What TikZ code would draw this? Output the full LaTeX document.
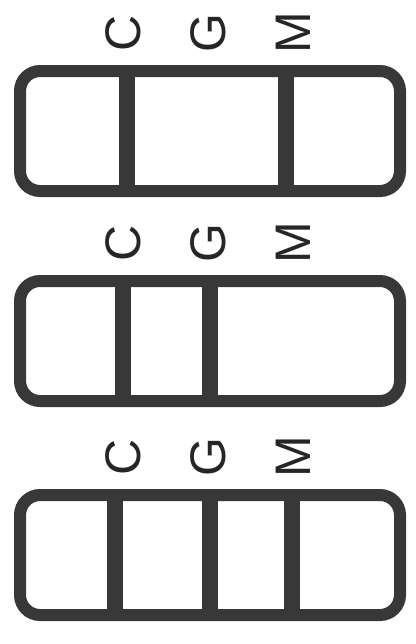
\documentclass[tikz,border=0pt]{standalone}
\usepackage{fontspec}
\setsansfont{Liberation Sans}
\usepackage{xcolor}
\usepackage{tikz}
\usetikzlibrary{positioning}
\definecolor{stripgray}{HTML}{383838}

\begin{document}
\begin{tikzpicture}[
  x=0.5pt, y=-0.5pt,
  node distance=45pt,
  strip/.style={rectangle, rounded corners=10pt, minimum width=190pt, minimum height=60pt, inner sep=0pt, outer sep=0pt, draw=stripgray, line width=6pt},
  band/.style={draw=stripgray, line width=8pt},
  letter/.style={font=\sffamily\fontsize{25}{25}\selectfont, text=black!85, rotate=90, inner sep=0pt}
]
\useasboundingbox (0,0) rectangle (416,644);
\node (strip1) [strip] at (210,131) {};
\node (strip2) [strip, below=of strip1] {};
\node (strip3) [strip, below=47pt of strip2] {};
\foreach \s/\bars in {strip1/{-41.5,38}, strip2/{-43.5,0}, strip3/{-47.5,0,41}} {
  \foreach \bx in \bars
    \draw [band] ([xshift=\bx pt]\s.north) -- ([xshift=\bx pt]\s.south);
  \foreach \lab/\lx in {C/-43.5, G/-1, M/41.5}
    \node (\s-\lab) [letter] at ([xshift=\lx pt, yshift=19pt]\s.north) {\lab};
}
\end{tikzpicture}
\end{document}
